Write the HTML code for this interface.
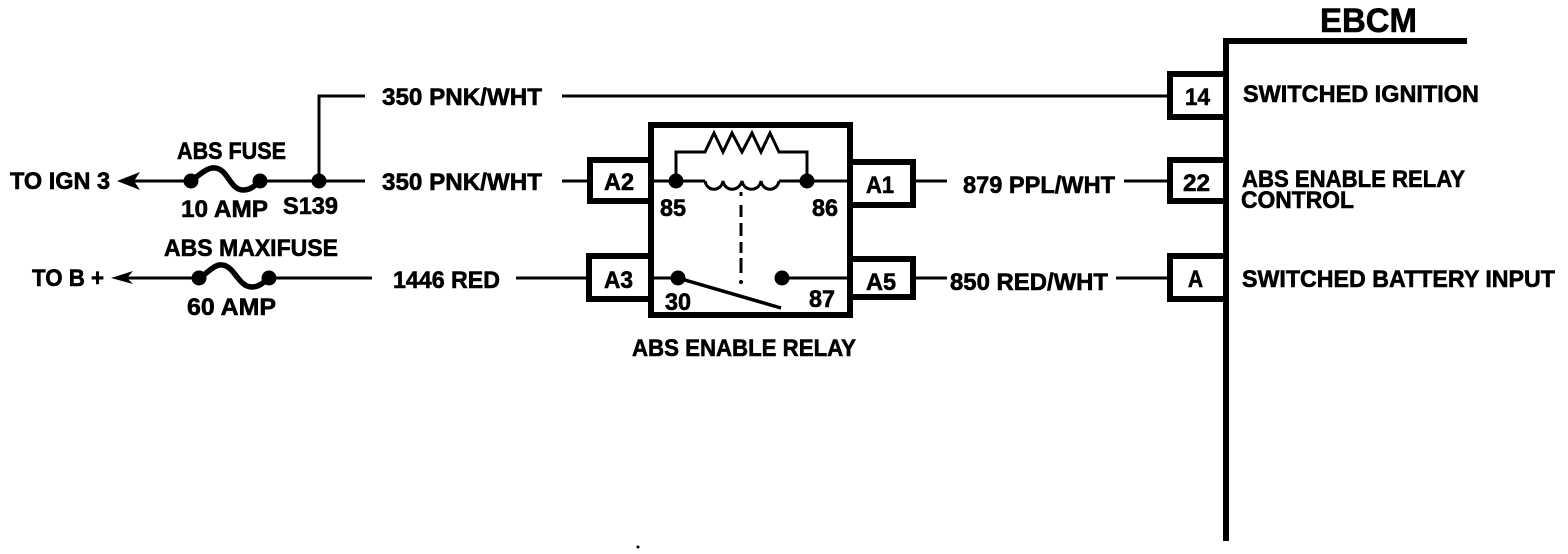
<!DOCTYPE html>
<html><head><meta charset="utf-8">
<style>
html,body{margin:0;padding:0;background:#fff;width:1568px;height:554px;overflow:hidden}
svg{display:block}
text{font-family:"Liberation Sans",Arial,sans-serif;font-weight:bold;fill:#000;stroke:#000;stroke-width:.6;font-size:24px}
</style></head><body>
<svg width="1568" height="554" viewBox="0 0 1568 554" xmlns="http://www.w3.org/2000/svg">
<g fill="none" stroke="#000" stroke-width="3">
<path d="M365 96H319V181"/>
<path d="M562 96H1170"/>
<path d="M125 181H190"/>
<path d="M260 181H365"/>
<path d="M562 181H590"/>
<path d="M123 278H199"/>
<path d="M269 278H372"/>
<path d="M516 278H590"/>
<path d="M916 181H947"/>
<path d="M1124 181H1170"/>
<path d="M916 278H947"/>
<path d="M1116 278H1168"/>
<path d="M190 181C198 177 206 167 215 168C228 169 230 190 243 190C252 190 256 184 260 181" stroke-width="5.5"/>
<path d="M199 278C207 274 214 264 222 265C235 266 238 287 252 287C260 287 265 281 269 278" stroke-width="5.5"/>
<path d="M676 181V152H705L714 133L723 152L732 133L742 152L752 133L761 152L770 133L779 152H807V181"/>
<path d="M705 181C707 192 721 192 723 181C725 192 739 192 742 181C744 192 759 192 761 181C763 192 777 192 779 181" stroke-width="3"/>
<path d="M741 192V196M741 205V217M741 223V236M741 242V253M741 258V273"/>
<path d="M678 278L781 308" stroke-width="3.5"/>
</g>
<polygon points="117,181 140,172 134,181 140,190" fill="#000"/>
<polygon points="111,278 133,271 127,278 133,284" fill="#000"/>
<g fill="#fff" stroke="#000" stroke-width="6">
<rect x="590" y="160" width="61" height="41"/>
<rect x="589" y="256" width="62" height="43"/>
<rect x="850" y="162" width="63" height="43"/>
<rect x="850" y="259" width="63" height="38"/>
<rect x="1170" y="74" width="56" height="43"/>
<rect x="1170" y="160" width="56" height="41"/>
<rect x="1170" y="256" width="56" height="43"/>
</g>
<rect x="651" y="125" width="199" height="190" fill="none" stroke="#000" stroke-width="6"/>
<path d="M651 181H705M779 181H848M651 278H678M782 278H850" stroke="#000" stroke-width="3" fill="none"/>
<g fill="#000">
<circle cx="191" cy="181" r="7.5"/><circle cx="260" cy="181" r="7.5"/><circle cx="319" cy="181" r="7.5"/>
<circle cx="199" cy="278" r="7.5"/><circle cx="269" cy="278" r="7.5"/>
<circle cx="676" cy="181" r="7.5"/><circle cx="807" cy="181" r="7.5"/>
<circle cx="678" cy="278" r="7.5"/><circle cx="782" cy="278" r="7.5"/>
<circle cx="741" cy="282" r="2"/><circle cx="638" cy="547" r="1.5"/>
</g>
<path d="M1467 41H1226V541" fill="none" stroke="#000" stroke-width="6"/>
<text x="382" y="105" textLength="160" lengthAdjust="spacingAndGlyphs">350 PNK/WHT</text>
<text x="382" y="190" textLength="160" lengthAdjust="spacingAndGlyphs">350 PNK/WHT</text>
<text x="393" y="288" textLength="107" lengthAdjust="spacingAndGlyphs">1446 RED</text>
<text x="963" y="193" textLength="152" lengthAdjust="spacingAndGlyphs">879 PPL/WHT</text>
<text x="950" y="290" textLength="158" lengthAdjust="spacingAndGlyphs">850 RED/WHT</text>
<text x="10" y="189" textLength="100" lengthAdjust="spacingAndGlyphs">TO IGN 3</text>
<text x="32" y="286" textLength="72" lengthAdjust="spacingAndGlyphs">TO B +</text>
<text x="177" y="159" textLength="109" lengthAdjust="spacingAndGlyphs">ABS FUSE</text>
<text x="181" y="217" textLength="87" lengthAdjust="spacingAndGlyphs">10 AMP</text>
<text x="283" y="214" textLength="55" lengthAdjust="spacingAndGlyphs">S139</text>
<text x="164" y="256" textLength="174" lengthAdjust="spacingAndGlyphs">ABS MAXIFUSE</text>
<text x="187" y="315" textLength="89" lengthAdjust="spacingAndGlyphs">60 AMP</text>
<text x="632" y="356" textLength="224" lengthAdjust="spacingAndGlyphs">ABS ENABLE RELAY</text>
<text x="604" y="190" textLength="30" lengthAdjust="spacingAndGlyphs">A2</text>
<text x="866" y="193" textLength="28" lengthAdjust="spacingAndGlyphs">A1</text>
<text x="604" y="288" textLength="29" lengthAdjust="spacingAndGlyphs">A3</text>
<text x="866" y="290" textLength="30" lengthAdjust="spacingAndGlyphs">A5</text>
<text x="660" y="216" textLength="26" lengthAdjust="spacingAndGlyphs">85</text>
<text x="812" y="216" textLength="26" lengthAdjust="spacingAndGlyphs">86</text>
<text x="665" y="310" textLength="26" lengthAdjust="spacingAndGlyphs">30</text>
<text x="809" y="307" textLength="26" lengthAdjust="spacingAndGlyphs">87</text>
<text x="1185" y="105" textLength="25" lengthAdjust="spacingAndGlyphs">14</text>
<text x="1183" y="191" textLength="27" lengthAdjust="spacingAndGlyphs">22</text>
<text x="1188" y="287" textLength="15" lengthAdjust="spacingAndGlyphs">A</text>
<text x="1320" y="32" textLength="97" lengthAdjust="spacingAndGlyphs" style="font-size:34px">EBCM</text>
<text x="1243" y="102" textLength="236" lengthAdjust="spacingAndGlyphs">SWITCHED IGNITION</text>
<text x="1242" y="187" textLength="223" lengthAdjust="spacingAndGlyphs">ABS ENABLE RELAY</text>
<text x="1241" y="208" textLength="113" lengthAdjust="spacingAndGlyphs">CONTROL</text>
<text x="1242" y="287" textLength="313" lengthAdjust="spacingAndGlyphs">SWITCHED BATTERY INPUT</text>
</svg>
</body></html>
